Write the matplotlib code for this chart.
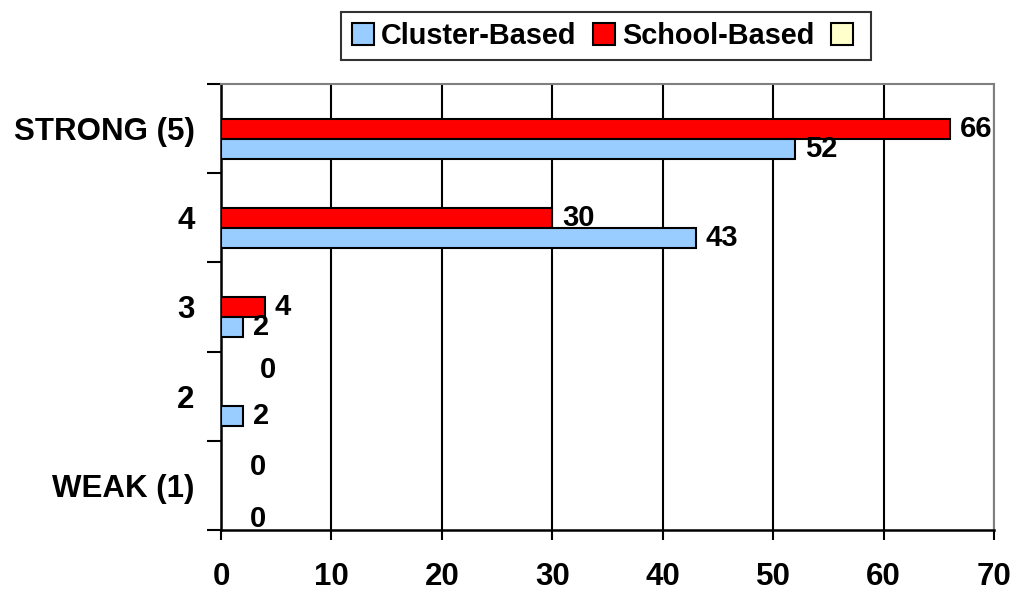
import matplotlib
matplotlib.use("Agg")
import matplotlib.pyplot as plt
from matplotlib.patches import Patch
import numpy as np

categories = ["WEAK (1)", "2", "3", "4", "STRONG (5)"]
cluster_based = [0, 2, 2, 43, 52]
school_based = [0, 0, 4, 30, 66]
series_names = ["Cluster-Based", "School-Based", ""]
x_ticks = [0, 10, 20, 30, 40, 50, 60, 70]

# label offsets (points) for labels Excel displaced (zero-value bars)
school_label_offsets = {0: (21, 13), 1: (28, 19)}
cluster_label_offsets = {0: (21, -10)}

plt.rcParams['font.family'] = ['Liberation Sans', 'DejaVu Sans']
plt.rcParams['font.weight'] = 'bold'

fig = plt.figure(figsize=(10.13, 5.91), dpi=100)
ax = fig.add_axes([221/1013, 1-530/591, (994-221)/1013, (530-84)/591])

y = np.arange(len(categories))
h = 0.224
blue = "#99CCFF"
red = "#FF0000"
yellow = "#FFFFCC"

# three series slots per category: cluster (bottom), school (middle), empty third (top)
ax.barh(y, school_based, height=h, color=red, edgecolor="black", linewidth=1.5, zorder=3)
ax.barh(y - h, cluster_based, height=h, color=blue, edgecolor="black", linewidth=1.5, zorder=3)

lab_fs = 21
for i, v in enumerate(school_based):
    off = school_label_offsets.get(i, (7, 0))
    ax.annotate(str(v), (v, y[i]), xytext=off, textcoords="offset points",
                ha="left", va="center", fontsize=lab_fs, fontweight="bold", zorder=4)
for i, v in enumerate(cluster_based):
    off = cluster_label_offsets.get(i, (7, 0))
    ax.annotate(str(v), (v, y[i] - h), xytext=off, textcoords="offset points",
                ha="left", va="center", fontsize=lab_fs, fontweight="bold", zorder=4)

ax.set_xlim(0, 70)
ax.set_ylim(-0.5, len(categories) - 0.5)
ax.set_xticks(x_ticks)
ax.set_xticklabels([str(t) for t in x_ticks], fontsize=22.5, fontweight="bold")
ax.tick_params(axis="x", length=7, width=1.5, pad=16, direction="out")

ax.set_yticks(np.arange(-0.5, len(categories)), minor=False)
ax.set_yticklabels([])
ax.set_yticks(y, minor=True)
ax.set_yticklabels(categories, minor=True, fontsize=22.5, fontweight="bold")
ax.tick_params(axis="y", which="major", length=10, width=1.5, direction="out")
ax.tick_params(axis="y", which="minor", length=0, pad=19)

ax.grid(axis="x", color="black", linewidth=1.5, zorder=1)
ax.set_axisbelow(True)
for s in ["top", "right"]:
    ax.spines[s].set_color("#808080")
    ax.spines[s].set_linewidth(1.5)
for s in ["left", "bottom"]:
    ax.spines[s].set_color("black")
    ax.spines[s].set_linewidth(1.8)

handles = [Patch(facecolor=c, edgecolor="black", linewidth=1.5) for c in (blue, red, yellow)]
leg = fig.legend(handles, series_names, loc="center", bbox_to_anchor=(606/1013, 1-36/591),
                 ncol=3, frameon=True, fancybox=False, handlelength=0.78,
                 handleheight=0.78, handletextpad=0.25, columnspacing=0.55, borderpad=0.35,
                 borderaxespad=0, prop={'weight': 'bold', 'size': 20.8})
leg.get_frame().set_edgecolor("black")
leg.get_frame().set_linewidth(1.5)

fig.savefig("out.png", dpi=100)
